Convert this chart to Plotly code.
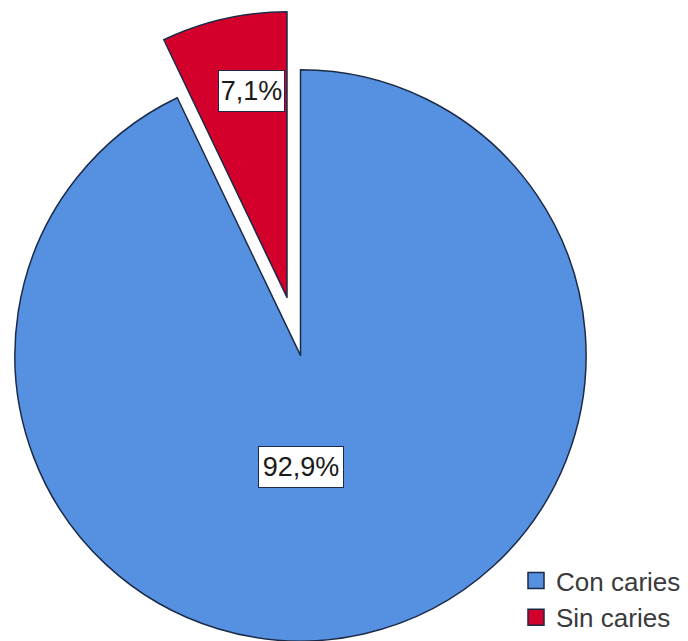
import plotly.graph_objects as go

# Caries prevalence
labels = ["Con caries", "Sin caries"]
values = [92.9, 7.1]
colors = ["#5591E0", "#D3002B"]
edge_color = "#1B2A47"

W, H = 688, 641
CLEAR = "rgba(0,0,0,0)"


def pct(v):
    return f"{v:.1f}%".replace(".", ",")


def clamp(v):
    return min(1.0, max(0.0, v))


def domain(cx, cy, r):
    # pie domain (paper units) for a circle of radius r centred at pixel (cx, cy)
    return dict(x=[clamp((cx - r) / W), clamp((cx + r) / W)],
                y=[clamp(1 - (cy + r) / H), clamp(1 - (cy - r) / H)])


R = 285.6
body_c = (300.5, 355.4)
wedge_c = (287.0, 297.4)

fig = go.Figure()

# main body: "Con caries" slice, the other one left empty
fig.add_trace(go.Pie(
    labels=labels, values=values, sort=False, direction="clockwise", rotation=0,
    marker=dict(colors=[colors[0], CLEAR],
                line=dict(color=[edge_color, CLEAR], width=[1.5, 0])),
    textinfo="none", hoverinfo="label+percent", showlegend=False,
    domain=domain(*body_c, R),
))

# exploded "Sin caries" slice
fig.add_trace(go.Pie(
    labels=labels, values=values, sort=False, direction="clockwise", rotation=0,
    marker=dict(colors=[CLEAR, colors[1]],
                line=dict(color=[CLEAR, edge_color], width=[0, 1.5])),
    textinfo="none", hoverinfo="label+percent", showlegend=False,
    domain=domain(*wedge_c, R),
))

# legend entries
for lab, col in zip(labels, colors):
    fig.add_trace(go.Scatter(
        x=[None], y=[None], mode="markers", name=lab,
        marker=dict(symbol="square", size=16, color=col,
                    line=dict(color=edge_color, width=1.5)),
    ))

# percentage labels in boxes
label_pos = [(301.0, 467.0), (251.5, 91.0)]
label_w = [80, 61]
for v, (px, py), w in zip(values, label_pos, label_w):
    fig.add_annotation(
        x=px / W, y=1 - py / H, xref="paper", yref="paper",
        xanchor="center", yanchor="middle",
        text=pct(v), showarrow=False,
        font=dict(family="Liberation Sans, Arial, sans-serif", size=27, color="#1a1a1a"),
        bgcolor="white", bordercolor="#1B2A47", borderwidth=1, borderpad=2,
        width=w, height=36, align="center", valign="middle",
    )

fig.update_layout(
    width=W, height=H,
    margin=dict(l=0, r=0, t=0, b=0),
    paper_bgcolor="white", plot_bgcolor="white",
    xaxis=dict(visible=False), yaxis=dict(visible=False),
    legend=dict(
        x=0.75, y=0.0, xanchor="left", yanchor="bottom",
        font=dict(family="Liberation Sans, Arial, sans-serif", size=26, color="#3a3a3a"),
        bgcolor="rgba(0,0,0,0)", tracegroupgap=0,
    ),
)

fig.write_html("out.html")
